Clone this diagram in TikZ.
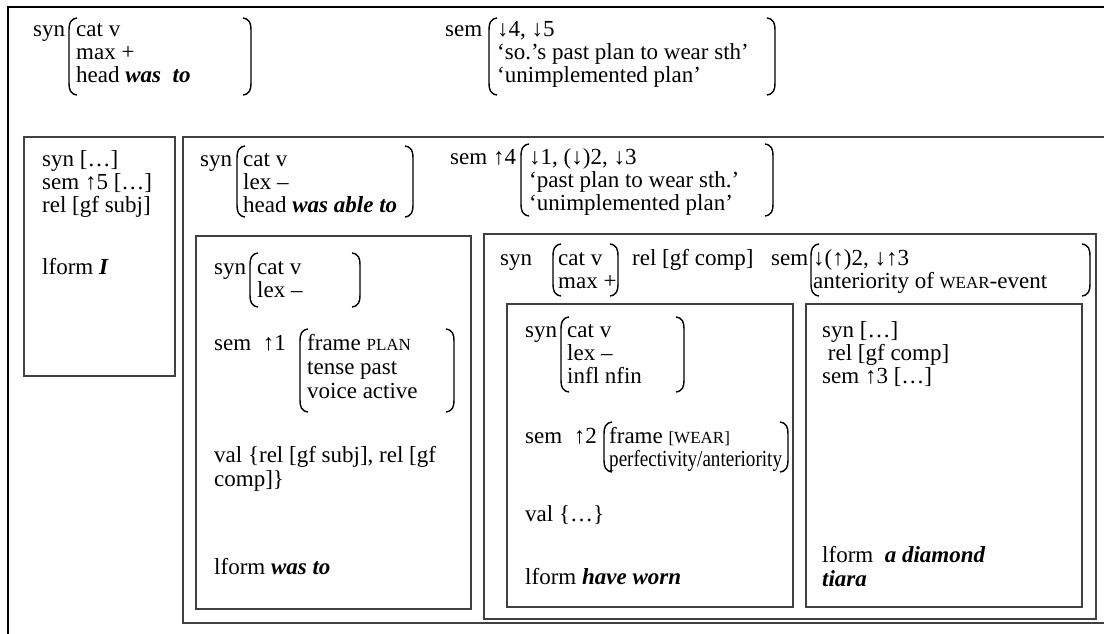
\documentclass[tikz,border=0pt]{standalone}
\usepackage{fontspec}
\setmainfont{Liberation Serif}
\newcommand\fs{\fontsize{23}{24}\selectfont}
\newcommand\scap[1]{{\fontsize{17}{20}\selectfont #1}}
\newcommand\bi[1]{\textbf{\textit{#1}}}
\tikzset{
  txt/.style={anchor=base west, inner sep=0pt, font=\fs},
  outerframe/.style={draw=black, line width=2pt},
  frame/.style={draw=black!75, line width=1.2pt},
  brk/.style={draw=black, line width=1.4pt},
}
% stack of text lines: name, x, first baseline, line distance, {lines}
\newcommand\stack[5]{%
  \foreach \t [count=\i] in {#5} {
    \node[txt] (#1-\i) at (#2, #3+#4*\i-#4) {\t};
  }%
}
% left and right round brackets: x, top, bottom
\newcommand\brL[3]{\draw[brk] (#1+8,#2) .. controls (#1+1,#2+1) and (#1,#2+6) .. (#1,#2+12) -- (#1,#3-12) .. controls (#1,#3-6) and (#1+1,#3-1) .. (#1+8,#3);}
\newcommand\brR[3]{\draw[brk] (#1-8,#2) .. controls (#1-1,#2+1) and (#1,#2+6) .. (#1,#2+12) -- (#1,#3-12) .. controls (#1,#3-6) and (#1-1,#3-1) .. (#1-8,#3);}
\begin{document}
\begin{tikzpicture}[x=1pt,y=-1pt]
\useasboundingbox (0,0) rectangle (1104,634);
\fill[white] (0,0) rectangle (1104,634);
\begin{scope}
\clip (0,0) rectangle (1104,634);
% frames
\draw[outerframe] (8,7) rectangle (1130,660);
\draw[frame] (24,137) rectangle (175,376);
\draw[frame] (183,137) rectangle (1130,623);
\draw[frame] (196,236) rectangle (471,609);
\draw[frame] (484,234) rectangle (1096,619);
\draw[frame] (507,304) rectangle (793,607);
\draw[frame] (806,304) rectangle (1082,607);
\end{scope}

% top level
\node[txt] (syn0) at (33,37) {syn};
\brL{69}{18}{95}
\stack{syn0v}{76}{37}{23}{{cat v},{max +},{head \bi{was\ \ to}}}
\brR{251}{18}{95}
\node[txt] (sem0) at (445,37) {sem};
\brL{489}{18}{95}
\stack{sem0v}{497}{37}{23}{{↓4, ↓5},{‘so.’s past plan to wear sth’},{‘unimplemented plan’}}
\brR{775}{18}{95}

% subject
\stack{subj}{42}{166}{23}{{syn […]},{sem ↑5 […]},{rel [gf subj]}}
\node[txt] (subjlf) at (42,274) {lform \bi{I}};

% was able to
\node[txt] (syn1) at (200,166) {syn};
\brL{237}{146}{217}
\stack{syn1v}{243}{166}{23}{{cat v},{lex –},{head \bi{was able to}}}
\brR{413}{146}{217}
\node[txt] (sem1) at (450,164) {sem ↑4};
\brL{521}{144}{216}
\stack{sem1v}{529}{164}{23}{{↓1, (↓)2, ↓3},{‘past plan to wear sth.’},{‘unimplemented plan’}}
\brR{773}{144}{216}

% was to
\node[txt] (syn2) at (214,274) {syn};
\brL{250}{253}{307}
\stack{syn2v}{257}{274}{23}{{cat v},{lex –}}
\brR{360}{253}{307}
\node[txt] (sem2) at (214,350) {sem\ \ ↑1};
\brL{300}{329}{412}
\stack{sem2v}{307}{350}{24}{{frame \scap{PLAN}},{tense past},{voice active}}
\brR{454}{329}{412}
\stack{val2}{214}{462}{24}{{val \{rel [gf subj], rel [gf},{comp]\}}}
\node[txt] (lf2) at (214,574) {lform \bi{was to}};

% complement
\node[txt] (syn3) at (500,265) {syn};
\brL{553}{244}{296}
\stack{syn3v}{558}{265}{23}{{cat v},{max +}}
\brR{618}{244}{296}
\node[txt] (rel3) at (632,265) {rel [gf comp]};
\node[txt] (sem3) at (771,265) {sem};
\brL{811}{244}{296}
\stack{sem3v}{813}{265}{23}{{↓(↑)2, ↓↑3},{anteriority of \scap{WEAR}-event}}
\brR{1090}{244}{296}

% have worn
\node[txt] (syn4) at (525,337) {syn};
\brL{561}{317}{392}
\stack{syn4v}{567}{337}{23}{{cat v},{lex –},{infl nfin}}
\brR{684}{317}{392}
\node[txt] (sem4) at (525,443) {sem\ \ ↑2};
\brL{604}{422}{472}
\stack{sem4v}{609}{443}{23}{{frame \scap{[WEAR]}},{\scalebox{0.83}[1]{perfectivity/anteriority}}}
\brR{788}{422}{472}
\node[txt] (val4) at (525,521) {val \{…\}};
\node[txt] (lf4) at (525,584) {lform \bi{have worn}};

% a diamond tiara
\stack{obj}{822}{337}{23}{{syn […]},{\ rel [gf comp]},{sem ↑3 […]}}
\stack{objlf}{822}{562}{24}{{lform\ \ \bi{a diamond}},{\bi{tiara}}}
\end{tikzpicture}
\end{document}
